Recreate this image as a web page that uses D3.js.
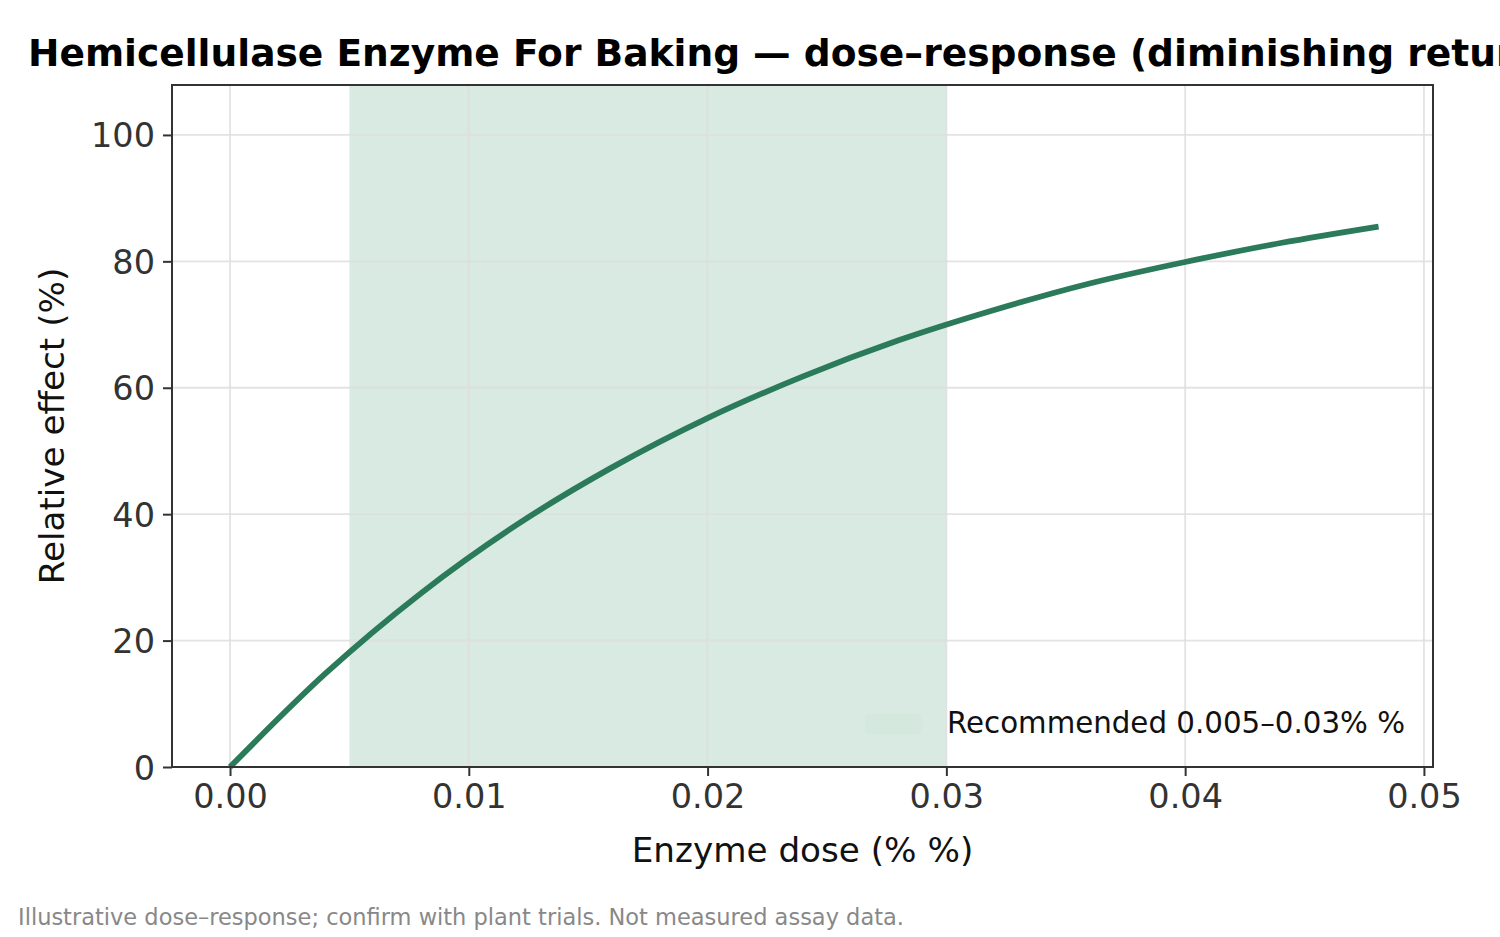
<!DOCTYPE html>
<html>
<head>
<meta charset="utf-8">
<script src="https://cdn.jsdelivr.net/npm/d3@7"></script>
<style>
  body { margin: 0; background: #fff; }
  svg text { font-family: "DejaVu Sans", sans-serif; }
</style>
</head>
<body>
<svg id="chart" width="1500" height="937"></svg>
<script>
// values
const doses = [0, 0.004, 0.008, 0.012, 0.016, 0.020, 0.024, 0.028, 0.032, 0.036, 0.040, 0.044, 0.0481];
const effects = [0, 14.8, 27.5, 38.3, 47.4, 55.2, 61.8, 67.5, 72.3, 76.5, 79.9, 82.9, 85.5];
const recommendedBand = [0.005, 0.03];
const xTicks = [0, 0.01, 0.02, 0.03, 0.04, 0.05];
const yTicks = [0, 20, 40, 60, 80, 100];

const titleText = "Hemicellulase Enzyme For Baking \u2014 dose\u2013response (diminishing returns)";
const xLabel = "Enzyme dose (% %)";
const yLabel = "Relative effect (%)";
const legendLabel = "Recommended 0.005\u20130.03% %";
const footText = "Illustrative dose\u2013response; confirm with plant trials. Not measured assay data.";

/***** SETUP *****/
const svg = d3.select("#chart");
const margin = {top: 85, left: 172, right: 67, bottom: 170};
const width = 1500, height = 937;
const plotWidth = width - margin.left - margin.right;
const plotHeight = height - margin.top - margin.bottom;

const LINE = "#2b7a5a";
const BAND = "#d8eae1";
const AXIS = "#333333";

const xScale = d3.scaleLinear()
    .domain([-0.00243, 0.05038])
    .range([0, plotWidth]);

const yScale = d3.scaleLinear()
    .domain([0, 107.9])
    .range([plotHeight, 0]);

const plot = svg.append("g")
    .attr("transform", `translate(${margin.left}, ${margin.top})`);

/***** BAND *****/
plot.append("rect")
    .attr("x", xScale(recommendedBand[0]))
    .attr("y", 0)
    .attr("width", xScale(recommendedBand[1]) - xScale(recommendedBand[0]))
    .attr("height", plotHeight)
    .attr("fill", BAND);

/***** GRID *****/
plot.append("g")
    .attr("class", "grid")
    .selectAll("line")
    .data(xTicks)
    .join("line")
    .attr("x1", d => xScale(d)).attr("x2", d => xScale(d))
    .attr("y1", 0).attr("y2", plotHeight)
    .attr("stroke", "#dedede").attr("stroke-opacity", 0.85).attr("stroke-width", 1.8);

plot.append("g")
    .attr("class", "grid")
    .selectAll("line")
    .data(yTicks)
    .join("line")
    .attr("x1", 0).attr("x2", plotWidth)
    .attr("y1", d => yScale(d)).attr("y2", d => yScale(d))
    .attr("stroke", "#dedede").attr("stroke-opacity", 0.85).attr("stroke-width", 1.8);

/***** LINE *****/
const pts = doses.map((d, i) => ({dose: d, effect: effects[i]}));
const line = d3.line()
    .x(d => xScale(d.dose))
    .y(d => yScale(d.effect))
    .curve(d3.curveMonotoneX);

plot.append("path")
    .datum(pts)
    .attr("fill", "none")
    .attr("stroke", LINE)
    .attr("stroke-width", 5.8)
    .attr("d", line);

/***** AXES *****/
const xAxis = plot.append("g")
    .attr("transform", `translate(0, ${plotHeight})`)
    .call(d3.axisBottom(xScale).tickValues(xTicks).tickFormat(d3.format(".2f"))
        .tickSize(9).tickPadding(8));

const yAxis = plot.append("g")
    .call(d3.axisLeft(yScale).tickValues(yTicks).tickFormat(d3.format("d"))
        .tickSize(9).tickPadding(8));

[xAxis, yAxis].forEach(ax => {
    ax.select(".domain").remove();
    ax.selectAll(".tick line").attr("stroke", AXIS).attr("stroke-width", 2);
    ax.selectAll(".tick text")
        .attr("fill", AXIS)
        .style("font-size", "33.5px")
        .style("font-family", "DejaVu Sans, sans-serif");
});
yAxis.selectAll(".tick text").attr("dy", "0.36em");

// frame
plot.append("rect")
    .attr("x", 0).attr("y", 0)
    .attr("width", plotWidth).attr("height", plotHeight)
    .attr("fill", "none")
    .attr("stroke", AXIS)
    .attr("stroke-width", 2);

/***** LEGEND *****/
const legend = plot.append("g")
    .attr("transform", `translate(${plotWidth - 568}, ${plotHeight - 53})`);
legend.append("rect")
    .attr("x", 0).attr("y", 0)
    .attr("width", 57).attr("height", 20)
    .attr("fill", "#d4e8de");
legend.append("text")
    .attr("x", 82).attr("y", 19)
    .style("font-size", "29.3px")
    .attr("fill", "#111")
    .text(legendLabel);

/***** LABELS *****/
svg.append("text")
    .attr("x", margin.left + plotWidth / 2)
    .attr("y", 862)
    .attr("text-anchor", "middle")
    .style("font-size", "34.2px")
    .attr("fill", "#111")
    .text(xLabel);

svg.append("text")
    .attr("transform", `translate(64, ${margin.top + plotHeight / 2}) rotate(-90)`)
    .attr("text-anchor", "middle")
    .style("font-size", "34.2px")
    .attr("fill", "#111")
    .text(yLabel);

svg.append("text")
    .attr("x", 28)
    .attr("y", 66)
    .style("font-size", "37.6px")
    .style("font-weight", "bold")
    .attr("fill", "#000")
    .text(titleText);

svg.append("text")
    .attr("x", 18)
    .attr("y", 925)
    .style("font-size", "22.5px")
    .attr("fill", "#888")
    .text(footText);
</script>
</body>
</html>
